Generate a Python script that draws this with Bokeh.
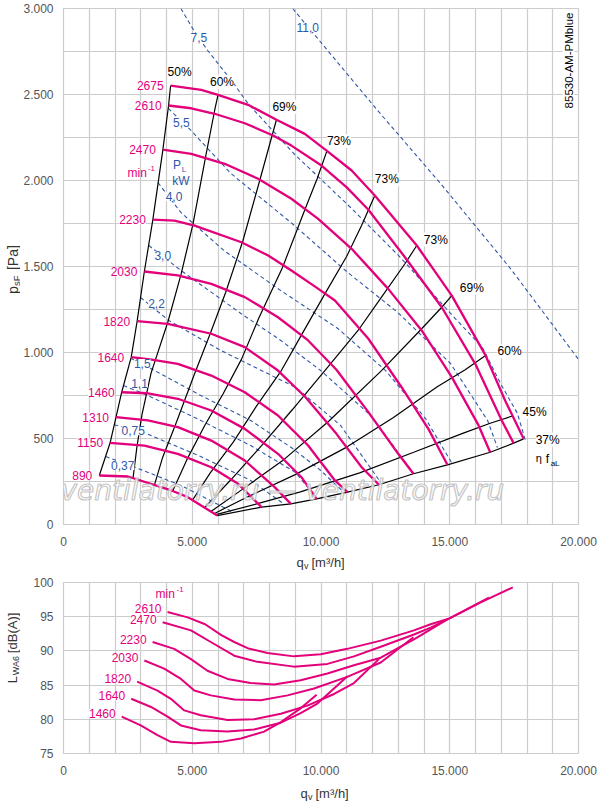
import math
from bokeh.plotting import figure
from bokeh.models import Range1d, FixedTicker, Label
from bokeh.layouts import column, row
from bokeh.embed import file_html
from bokeh.resources import INLINE

FONT = "Liberation Sans"
MAGENTA = "#e3007b"
BLUE = "#2f57a8"
GRID = "#cccccc"
TICK = "#555555"
TITLE = "#333333"

# ---------------- top chart data: q [m3/h], p [Pa] ----------------
speeds = [2675, 2610, 2470, 2230, 2030, 1820, 1640, 1460, 1310, 1150, 890]

q_2675 = [4160, 5350, 6000, 7170, 8270, 9370, 10230, 11190, 12090, 13720, 15080, 16390, 17150, 17870]
p_2675 = [2552, 2527, 2498, 2440, 2353, 2271, 2172, 2058, 1913, 1622, 1331, 983, 721, 498]
q_2610 = [4080, 4960, 5870, 7040, 8140, 8850, 10020, 11000, 11840, 13260, 14690, 15990, 17020, 17480]
p_2610 = [2436, 2420, 2388, 2333, 2262, 2203, 2087, 1960, 1830, 1554, 1263, 934, 605, 473]
q_2470 = [3860, 4960, 6260, 7560, 8850, 9890, 11190, 12610, 13910, 15080, 16120, 16570]
p_2470 = [2180, 2155, 2097, 2010, 1894, 1777, 1603, 1370, 1128, 857, 576, 420]
q_2230 = [3470, 4310, 5090, 6910, 7950, 8850, 9800, 10540, 11840, 13130, 14170, 14910]
p_2230 = [1773, 1767, 1738, 1641, 1564, 1477, 1380, 1302, 1080, 798, 556, 347]
q_2030 = [3140, 4440, 5740, 7040, 8330, 9500, 10600, 11840, 13000, 13590]
p_2030 = [1471, 1448, 1399, 1322, 1205, 1070, 900, 653, 411, 295]
q_1820 = [2860, 4050, 5740, 7040, 8330, 9400, 10600, 11580, 12250]
p_1820 = [1182, 1167, 1109, 1031, 895, 740, 527, 333, 231]
q_1640 = [2630, 3430, 4440, 5740, 7040, 8330, 9500, 10540, 11030]
p_1640 = [973, 959, 934, 866, 769, 634, 459, 256, 188]
q_1460 = [2260, 3280, 4440, 5740, 7040, 8330, 9240, 9830]
p_1460 = [769, 763, 731, 663, 556, 411, 275, 149]
q_1310 = [2040, 3280, 4440, 5740, 7040, 8200, 8830]
p_1310 = [624, 605, 566, 488, 372, 217, 120]
q_1150 = [1810, 3140, 4440, 5740, 6780, 7690]
p_1150 = [475, 459, 411, 333, 237, 101]
q_890 = [1390, 2500, 3790, 4240, 4830, 5970]
p_890 = [285, 279, 217, 195, 159, 52]

speed_q = [q_2675, q_2610, q_2470, q_2230, q_2030, q_1820, q_1640, q_1460, q_1310, q_1150, q_890]
speed_p = [p_2675, p_2610, p_2470, p_2230, p_2030, p_1820, p_1640, p_1460, p_1310, p_1150, p_890]

# efficiency lines (50 % runs through the curve starts, 37 % through the curve ends)
eta_labels = ["50%", "60%", "69%", "73%", "73%", "73%", "69%", "60%", "45%", "37%"]
q_eta60a = [2700, 2850, 3050, 3400, 4050, 4570, 5030, 5540, 5870, 6000]
p_eta60a = [269, 450, 640, 880, 1176, 1457, 1748, 2155, 2407, 2498]
q_eta69a = [3530, 3850, 4400, 5050, 5700, 6300, 6970, 7620, 8270]
p_eta69a = [229, 390, 600, 860, 1110, 1350, 1651, 2000, 2353]
q_eta73a = [4240, 4800, 5500, 6200, 6910, 7600, 8510, 9410, 9850, 10230]
p_eta73a = [195, 380, 580, 760, 960, 1205, 1496, 1845, 2010, 2172]
q_eta73b = [5010, 5700, 6600, 7500, 8460, 9310, 10150, 11000, 11580, 12090]
p_eta73b = [142, 300, 480, 690, 895, 1120, 1341, 1560, 1740, 1913]
q_eta73c = [5480, 6500, 7700, 8900, 10150, 11440, 12350, 13260, 13720]
p_eta73c = [98, 260, 460, 670, 895, 1128, 1322, 1516, 1622]
q_eta69b = [5720, 7000, 8500, 10300, 12350, 13910, 14690, 15080]
p_eta69b = [75, 210, 370, 600, 895, 1138, 1263, 1331]
q_eta60b = [5850, 7000, 9000, 11000, 12800, 14500, 15600, 16390]
p_eta60b = [63, 150, 290, 450, 620, 800, 900, 983]
q_eta45 = [5920, 7500, 9200, 11500, 13600, 15500, 16600, 17440]
p_eta45 = [57, 120, 190, 300, 420, 530, 590, 631]

# power lines P_L [kW]
power_labels = ["0,37", "0,75", "1,1", "1,5", "2,2", "3,0", "4,0", "5,5", "7,5", "11,0"]
q_P037 = [1640, 2810, 4560, 6610]
p_P037 = [395, 331, 227, 70]
q_P075 = [1970, 3200, 5330, 7270, 8590]
p_P075 = [580, 530, 395, 256, 116]
q_P110 = [2330, 3280, 5330, 7270, 9020, 9830]
p_P110 = [808, 750, 605, 459, 302, 151]
q_P150 = [2630, 3390, 5330, 7270, 8900, 9990, 10900]
p_P150 = [965, 907, 750, 605, 442, 314, 186]
q_P220 = [2990, 4090, 6110, 9020, 10760, 12350]
p_P220 = [1320, 1186, 1012, 797, 576, 238]
q_P300 = [3310, 4560, 6890, 8440, 9990, 11930, 13600]
p_P300 = [1622, 1477, 1227, 1070, 895, 634, 297]
q_P400 = [3670, 4560, 6230, 8440, 10650, 12510, 14060, 15070]
p_P400 = [1988, 1814, 1593, 1360, 1140, 895, 616, 360]
q_P550 = [4070, 4950, 6500, 8830, 11040, 12980, 15030, 16470, 16850]
p_P550 = [2419, 2291, 2041, 1756, 1465, 1233, 936, 605, 448]
q_P750 = [4560, 5060, 5600, 6610, 7160, 8940, 11150, 13090, 15030, 16270, 16970, 17630, 17940]
p_P750 = [3000, 2872, 2756, 2564, 2448, 2157, 1843, 1552, 1227, 1029, 820, 645, 488]
q_P1100 = [8900, 12200, 14640, 17360, 20000]
p_P1100 = [3000, 2407, 1983, 1488, 960]

# ---------------- bottom chart data: L_WA6 [dB(A)] ----------------
noise_speeds = [2610, 2470, 2230, 2030, 1820, 1640, 1460]
qL_2610 = [4040, 4820, 5500, 6130, 6630, 7150, 7920, 8950, 9990, 11020, 12320, 13610, 14260, 14990, 16200, 17450]
L_2610 = [95.7, 94.9, 93.9, 92.3, 91.3, 90.4, 89.7, 89.2, 89.5, 90.3, 91.5, 93.0, 93.9, 94.75, 97.1, 99.3]
qL_2470 = [3850, 4950, 5720, 6630, 7530, 8950, 10250, 11280, 12320, 13610, 14260, 14990, 16520]
L_2470 = [94.2, 93.0, 91.3, 89.3, 88.4, 87.7, 88.1, 89.2, 90.6, 92.4, 93.4, 94.75, 97.8]
qL_2230 = [3460, 4300, 4950, 5590, 6370, 7270, 8180, 9210, 10250, 11280, 12320, 13610, 14910]
L_2230 = [91.3, 90.3, 88.8, 87.1, 85.9, 85.3, 85.1, 85.7, 86.7, 87.9, 89.0, 91.7, 94.6]
qL_2030 = [3140, 3910, 4560, 5080, 5720, 6630, 7660, 8700, 9730, 11020, 12320, 13590]
L_2030 = [88.6, 87.4, 85.9, 84.2, 83.5, 82.9, 82.8, 83.5, 84.5, 86.2, 88.3, 92.0]
qL_1820 = [2860, 3650, 4170, 4690, 5330, 6370, 7400, 8440, 9470, 10510, 11280, 12250]
L_1820 = [85.5, 84.2, 83.0, 81.3, 80.6, 79.9, 80.0, 80.8, 82.0, 83.7, 85.3, 88.8]
qL_1640 = [2630, 3400, 4040, 4560, 5330, 6370, 7400, 8440, 9210, 9860, 11030]
L_1640 = [83.0, 81.8, 80.4, 79.1, 78.4, 78.2, 78.5, 79.5, 80.9, 82.3, 86.3]
qL_1460 = [2260, 3000, 3650, 4170, 5080, 6110, 6890, 7790, 8440, 9210, 9830]
L_1460 = [80.4, 79.1, 77.7, 76.7, 76.5, 76.7, 77.2, 78.2, 79.6, 81.6, 83.6]
noise_q = [qL_2610, qL_2470, qL_2230, qL_2030, qL_1820, qL_1640, qL_1460]
noise_L = [L_2610, L_2470, L_2230, L_2030, L_1820, L_1640, L_1460]

# axes
x_ticks = [0, 5000, 10000, 15000, 20000]
x_tick_labels = ["0", "5.000", "10.000", "15.000", "20.000"]
x_grid = list(range(0, 20001, 1000))
y1_ticks = [0, 500, 1000, 1500, 2000, 2500, 3000]
y1_tick_labels = ["0", "500", "1.000", "1.500", "2.000", "2.500", "3.000"]
y1_grid = list(range(0, 3001, 250))
y2_ticks = [75, 80, 85, 90, 95, 100]
y2_tick_labels = ["75", "80", "85", "90", "95", "100"]


def style(fig, yt, ylab, ygrid):
    fig.xaxis.ticker = FixedTicker(ticks=x_ticks)
    fig.xaxis.major_label_overrides = {t: s for t, s in zip(x_ticks, x_tick_labels)}
    fig.yaxis.ticker = FixedTicker(ticks=yt)
    fig.yaxis.major_label_overrides = {t: s for t, s in zip(yt, ylab)}
    fig.xgrid.ticker = FixedTicker(ticks=x_grid)
    fig.ygrid.ticker = FixedTicker(ticks=ygrid)
    for g in (fig.xgrid, fig.ygrid):
        g.grid_line_color = GRID
        g.grid_line_width = 1.2
    for ax in (fig.xaxis, fig.yaxis):
        ax.axis_line_color = None
        ax.major_tick_line_color = None
        ax.minor_tick_line_color = None
        ax.major_tick_out = 0
        ax.major_tick_in = 0
        ax.major_label_text_font = FONT
        ax.major_label_text_font_size = "12px"
        ax.major_label_text_color = TICK
    fig.xaxis.major_label_standoff = 12
    fig.yaxis.major_label_standoff = 10
    fig.outline_line_color = GRID
    fig.outline_line_width = 1.2
    fig.background_fill_color = "white"
    fig.border_fill_color = "white"


def lab(fig, x, y, text, size="12px", color="black", align="left", baseline="middle",
        dx=0, dy=0, angle=0, bg=None, font=FONT, fstyle="normal", outline=None, alpha=1.0):
    kw = dict(x=x, y=y, text=text, text_font=font, text_font_size=size, text_color=color,
              text_align=align, text_baseline=baseline, x_offset=dx, y_offset=dy,
              angle=angle, text_font_style=fstyle, text_alpha=alpha)
    if bg:
        kw["background_fill_color"] = bg
    if outline:
        kw["text_outline_color"] = outline
    fig.add_layout(Label(**kw))


def blank(w, h):
    f = figure(width=w, height=h, x_range=Range1d(0, w), y_range=Range1d(0, h),
               output_backend="svg", toolbar_location=None,
               x_axis_type=None, y_axis_type=None,
               min_border_left=0, min_border_right=0, min_border_top=0, min_border_bottom=0)
    f.outline_line_color = None
    f.background_fill_color = "white"
    f.border_fill_color = "white"
    return f


# ---------------- top figure ----------------
p1 = figure(width=580, height=553, x_range=Range1d(0, 20000), y_range=Range1d(0, 3000),
            output_backend="svg", toolbar_location=None,
            min_border_left=43, min_border_right=22, min_border_top=8, min_border_bottom=29)
style(p1, y1_ticks, y1_tick_labels, y1_grid)

power_q = [q_P037, q_P075, q_P110, q_P150, q_P220, q_P300, q_P400, q_P550, q_P750, q_P1100]
power_p = [p_P037, p_P075, p_P110, p_P150, p_P220, p_P300, p_P400, p_P550, p_P750, p_P1100]
for q, pp in zip(power_q, power_p):
    p1.line(q, pp, line_color=BLUE, line_width=1.1, line_dash="4 3")

q_eta50 = [c[0] for c in reversed(speed_q)]
p_eta50 = [c[0] for c in reversed(speed_p)]
q_eta37 = [c[-1] for c in reversed(speed_q)]
p_eta37 = [c[-1] for c in reversed(speed_p)]
eta_q = [q_eta50, q_eta60a, q_eta69a, q_eta73a, q_eta73b, q_eta73c, q_eta69b, q_eta60b, q_eta45, q_eta37]
eta_p = [p_eta50, p_eta60a, p_eta69a, p_eta73a, p_eta73b, p_eta73c, p_eta69b, p_eta60b, p_eta45, p_eta37]
for q, pp in zip(eta_q, eta_p):
    p1.line(q, pp, line_color="black", line_width=1.2)

for q, pp in zip(speed_q, speed_p):
    p1.line(q, pp, line_color=MAGENTA, line_width=2.3)

# watermark
lab(p1, 0, 200, "ventilatorry.ru \u2014 ventilatorry.ru", size="28px", color="white",
    baseline="alphabetic", dx=-3, font="DejaVu Sans", fstyle="italic", outline="#b0b0b0", alpha=0.75)

# speed labels
for s, q, pp in zip(speeds, speed_q, speed_p):
    lab(p1, q[0], pp[0], str(s), color=MAGENTA, align="right", dx=-7, bg="white")
lab(p1, q_2470[0], p_2470[0], "min", color=MAGENTA, align="right", dx=-16, dy=-23)
lab(p1, q_2470[0], p_2470[0], "-1", size="8px", color=MAGENTA, dx=-15, dy=-19)

# efficiency labels
eta_dx = [9, 4, 8, 12, 12, 19, 20, 24, 22, 24]
eta_dy = [14, 13, 13, 10, 16, 6, 8, 4, 4, -1]
for t, q, pp, dx, dy in zip(eta_labels, eta_q, eta_p, eta_dx, eta_dy):
    lab(p1, q[-1], pp[-1], t, align="center", dx=dx, dy=dy, bg="white")
lab(p1, q_eta37[-1], p_eta37[-1], "\u03b7", size="11px", dx=12, dy=-19)
lab(p1, q_eta37[-1], p_eta37[-1], "f", dx=22, dy=-20)
lab(p1, q_eta37[-1], p_eta37[-1], "aL", size="8px", dx=27, dy=-25)

# power labels
pw_dx = [17, 19, 16, 11, 16, 14, 16, 13, 18, 15]
pw_dy = [9, 6, -2, 5, 6, 10, 14, 14, 29, 19]
for t, q, pp, dx, dy in zip(power_labels, power_q, power_p, pw_dx, pw_dy):
    lab(p1, q[0], pp[0], t, color=BLUE, align="center", dx=dx, dy=-dy, bg="white")
lab(p1, q_2470[0], p_2470[0], "P", color=BLUE, align="center", dx=14, dy=-15)
lab(p1, q_2470[0], p_2470[0], "L", size="8px", color=BLUE, align="center", dx=21, dy=-20)
lab(p1, q_2470[0], p_2470[0], "kW", color=BLUE, align="center", dx=18, dy=-31)

# type code
lab(p1, 20000, 3000, "85530-AM-PMblue", size="11.5px", align="right", dx=-10, dy=-4,
    angle=math.pi / 2, bg="white")

# axis titles of the top chart
ty1 = blank(20, 553)
lab(ty1, 12, 247, "p", size="14px", color=TITLE, angle=math.pi / 2)
lab(ty1, 12, 247, "sF", size="9.5px", color=TITLE, angle=math.pi / 2, dx=3.5, dy=8)
lab(ty1, 12, 247, "[Pa]", size="14px", color=TITLE, angle=math.pi / 2, dy=24)
tx1 = blank(600, 20)
lab(tx1, 296, 11, "q", size="13px", color=TITLE)
lab(tx1, 296, 11, "v", size="9px", color=TITLE, dx=7.5, dy=-3)
lab(tx1, 296, 11, "[m\u00b3/h]", size="13px", color=TITLE, dx=15)

# ---------------- bottom figure ----------------
p2 = figure(width=580, height=209, x_range=Range1d(0, 20000), y_range=Range1d(75, 100),
            output_backend="svg", toolbar_location=None,
            min_border_left=43, min_border_right=22, min_border_top=9, min_border_bottom=29)
style(p2, y2_ticks, y2_tick_labels, list(range(75, 101, 5)))

for q, L in zip(noise_q, noise_L):
    p2.line(q, L, line_color=MAGENTA, line_width=2.0)
for s, q, L in zip(noise_speeds, noise_q, noise_L):
    lab(p2, q[0], L[0], str(s), color=MAGENTA, align="right", dx=-6, dy=3, bg="white")
lab(p2, qL_2610[0], L_2610[0], "min", color=MAGENTA, dx=-12, dy=18)
lab(p2, qL_2610[0], L_2610[0], "-1", size="8px", color=MAGENTA, dx=9, dy=22)

ty2 = blank(20, 209)
lab(ty2, 12, 86, "L", size="13px", color=TITLE, angle=math.pi / 2)
lab(ty2, 12, 86, "WA6", size="9px", color=TITLE, angle=math.pi / 2, dx=3, dy=8)
lab(ty2, 12, 86, "[dB(A)]", size="13px", color=TITLE, angle=math.pi / 2, dy=30)
tx2 = blank(600, 24)
lab(tx2, 300, 13, "q", size="13px", color=TITLE)
lab(tx2, 300, 13, "v", size="9px", color=TITLE, dx=7.5, dy=-3)
lab(tx2, 300, 13, "[m\u00b3/h]", size="13px", color=TITLE, dx=15)

layout = column(row(ty1, p1, spacing=0), tx1, row(ty2, p2, spacing=0), tx2, spacing=0)
open("out.html", "w").write(file_html(layout, INLINE))
